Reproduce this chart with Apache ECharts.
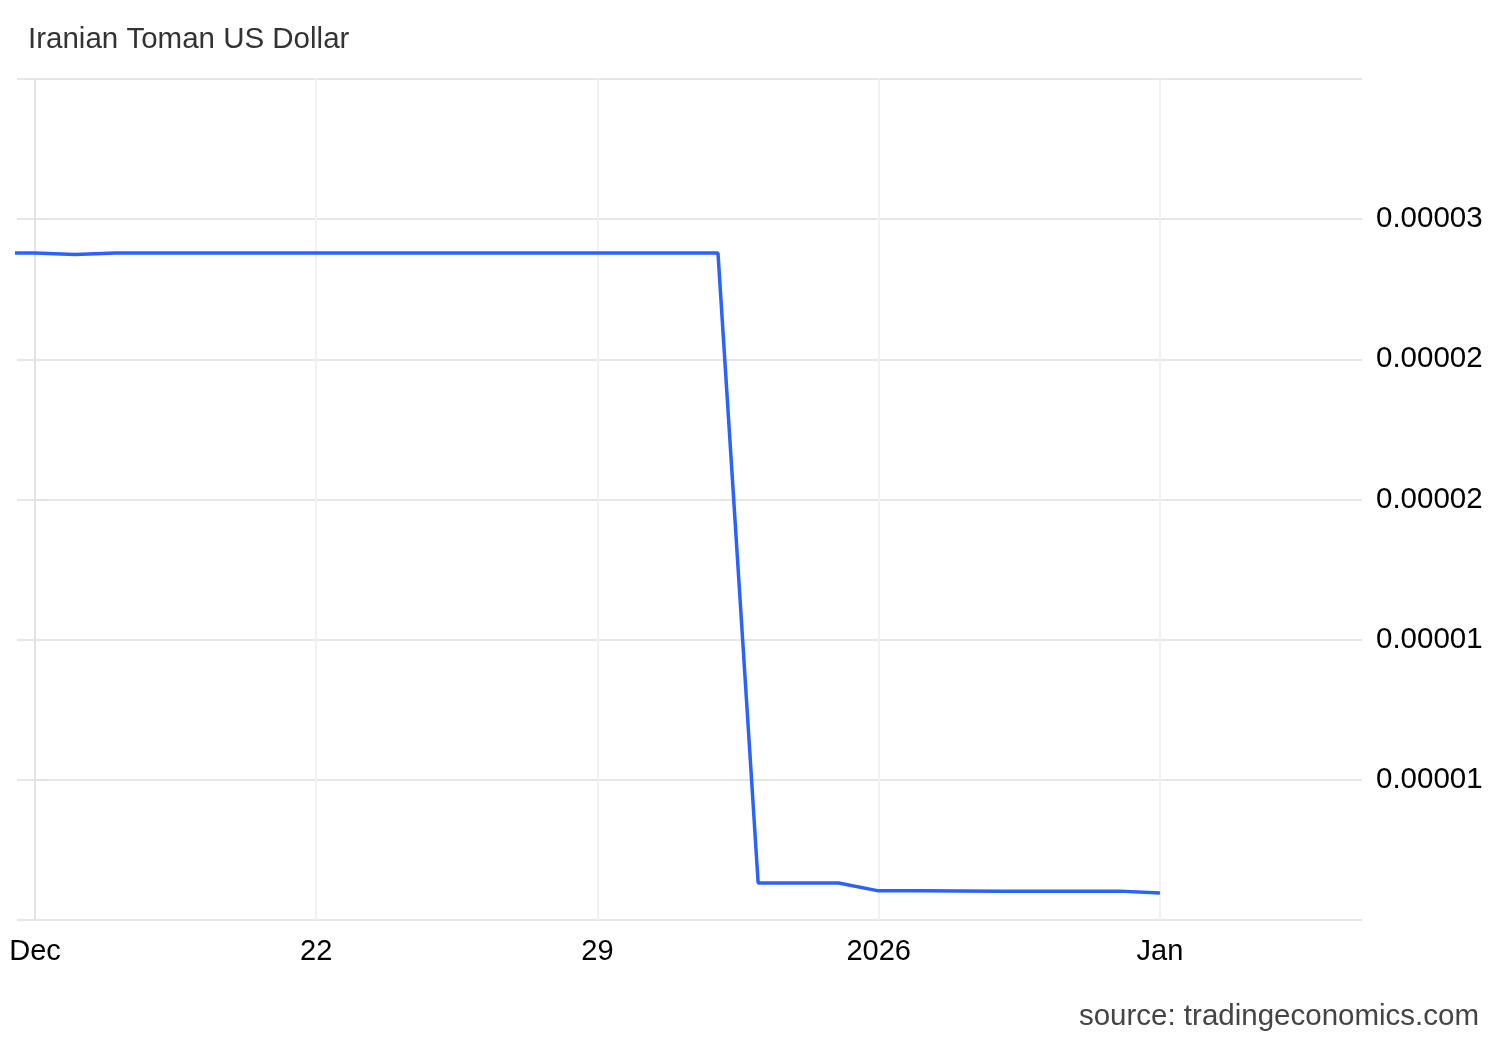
<!DOCTYPE html>
<html>
<head>
<meta charset="utf-8">
<title>Iranian Toman US Dollar</title>
<script src="https://cdn.jsdelivr.net/npm/echarts@6/dist/echarts.min.js"></script>
<style>
  html, body { margin: 0; padding: 0; background: #fff; }
  #chart { width: 1500px; height: 1040px; }
</style>
</head>
<body>
<div id="chart"></div>
<script>
// days counted from Dec 15 (label "Dec")
const days = [-1, 0, 1, 2, 3, 4, 5, 6, 7, 8, 9, 10, 11, 12, 13, 14, 15, 16, 17,
  18, 19, 20, 21, 22, 23, 24, 25, 26, 27, 28]
const values = [
  2.379e-5, 2.379e-5, 2.374e-5, 2.379e-5, 2.379e-5, 2.379e-5, 2.379e-5, 2.379e-5,
  2.379e-5, 2.379e-5, 2.379e-5, 2.379e-5, 2.379e-5, 2.379e-5, 2.379e-5, 2.379e-5,
  2.379e-5, 2.379e-5, 2.379e-5,
  1.32e-6, 1.32e-6, 1.32e-6, 1.04e-6, 1.04e-6, 1.035e-6, 1.03e-6, 1.03e-6,
  1.03e-6, 1.03e-6, 0.96e-6
]
const tickDays = [0, 7, 14, 21, 28]
const tickLabels = ['Dec', '22', '29', '2026', 'Jan']

const chart = echarts.init(document.getElementById('chart'))
const font = 'Liberation Sans, Arial'

chart.setOption({
  animation: false,
  title: [
    { text: 'Iranian Toman US Dollar', left: 28, top: 25, padding: 0,
      textStyle: { fontFamily: font, fontSize: 29.5, fontWeight: 'normal', color: '#333' } },
    { text: 'source: tradingeconomics.com', right: 21, top: 1002, padding: 0,
      textStyle: { fontFamily: font, fontSize: 29.5, fontWeight: 'normal', color: '#444' } }
  ],
  grid: { left: 17, right: 138, top: 79, bottom: 120 },
  xAxis: {
    type: 'value', min: -0.448, max: 33.03,
    axisLine: { show: false },
    axisTick: { show: false, customValues: tickDays },
    splitLine: { show: true, lineStyle: { color: '#eef1f6', width: 2 } },
    axisLabel: {
      customValues: tickDays, margin: 17,
      fontFamily: font, fontSize: 29, color: '#000',
      formatter: v => tickLabels[tickDays.indexOf(v)]
    }
  },
  yAxis: {
    type: 'value', position: 'right', min: 0, max: 0.00003, interval: 0.000005,
    axisLine: { show: true, lineStyle: { color: '#e3e3e3', width: 2 } },
    axisTick: { show: true, length: 8, lineStyle: { color: '#e3e3e3', width: 2 } },
    splitLine: { lineStyle: { color: '#e6e6e6', width: 2 } },
    axisLabel: {
      showMinLabel: false, showMaxLabel: false, margin: 14,
      padding: [9, 0, 0, 0],
      fontFamily: font, fontSize: 29.5, color: '#000',
      formatter: v => v.toFixed(5)
    }
  },
  series: [{
    type: 'line',
    data: days.map((d, i) => [d, values[i]]),
    showSymbol: false,
    clip: true,
    lineStyle: { color: '#2962ff', width: 3.5 },
    itemStyle: { color: '#2962ff' }
  }]
})

window.addEventListener('resize', () => chart.resize())
</script>
</body>
</html>
